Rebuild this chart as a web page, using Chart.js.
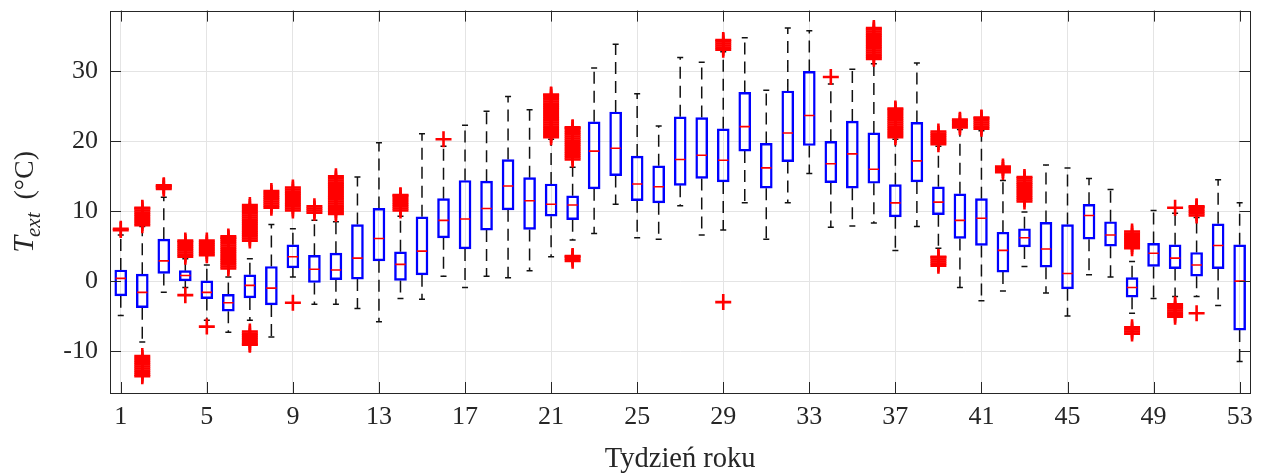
<!DOCTYPE html>
<html>
<head>
<meta charset="utf-8">
<script src="https://cdn.jsdelivr.net/npm/chart.js@4"></script>
<style>
  html, body { margin: 0; padding: 0; background: #fff; }
</style>
</head>
<body>
<canvas id="chart" width="1261" height="475"></canvas>
<script>
const weeks = [1, 2, 3, 4, 5, 6, 7, 8, 9, 10, 11, 12, 13, 14, 15, 16, 17, 18, 19, 20,
  21, 22, 23, 24, 25, 26, 27, 28, 29, 30, 31, 32, 33, 34, 35, 36, 37, 38, 39, 40,
  41, 42, 43, 44, 45, 46, 47, 48, 49, 50, 51, 52, 53];

const whiskerLow = [-4.9, -8.7, -1.6, -0.9, -5.6, -7.3, -5.6, -8.0, 0.6, -3.3,
  -3.3, -3.9, -5.8, -2.5, -2.6, 0.7, -0.9, 0.7, 0.5, 1.5,
  3.5, 5.9, 6.8, 11.0, 6.2, 6.0, 10.8, 6.6, 7.3, 11.2,
  6.0, 11.2, 15.4, 7.7, 7.9, 8.3, 4.4, 7.8, 4.7, -0.9,
  -2.8, -1.4, 2.1, -1.7, -5.0, 0.9, 0.6, -4.6, -2.5, -2.2,
  -2.2, -3.5, -11.5];
const q1 = [-2.1, -3.8, 1.1, 0.05, -2.5, -4.3, -2.4, -3.4, 1.9, -0.2,
  0.2, 0.3, 2.9, 0.1, 0.9, 6.2, 4.6, 7.3, 10.2, 7.4,
  9.3, 8.8, 13.2, 15.1, 11.5, 11.2, 13.7, 14.7, 14.2, 18.6,
  13.3, 17.1, 19.4, 14.1, 13.3, 14.0, 9.2, 14.2, 9.5, 6.1,
  5.1, 1.3, 4.9, 2.0, -1.1, 6.0, 5.0, -2.3, 2.1, 1.8,
  0.7, 1.8, -7.0];
const median = [0.4, -1.6, 2.9, 0.8, -1.6, -3.1, -0.6, -1.0, 3.5, 1.7,
  1.6, 3.3, 6.1, 2.4, 4.3, 8.7, 8.9, 10.4, 13.6, 11.5,
  11.0, 10.9, 18.6, 19.0, 13.9, 13.5, 17.4, 18.0, 17.3, 22.1,
  16.2, 21.2, 23.7, 16.8, 18.2, 16.0, 11.2, 17.2, 11.3, 8.7,
  9.0, 4.4, 6.2, 4.6, 1.1, 9.4, 6.6, -0.9, 4.0, 3.3,
  2.3, 5.1, 0.0];
const q3 = [1.6, 1.0, 6.0, 1.5, 0.05, -1.9, 0.9, 2.1, 5.2, 3.7,
  4.0, 8.1, 10.4, 4.2, 9.2, 11.8, 14.4, 14.3, 17.4, 14.8,
  13.9, 12.2, 22.8, 24.2, 17.9, 16.5, 23.5, 23.4, 21.8, 27.0,
  19.7, 27.2, 30.0, 20.0, 22.9, 21.2, 13.8, 22.7, 13.5, 12.5,
  11.8, 7.0, 7.5, 8.4, 8.1, 11.0, 8.5, 0.5, 5.4, 5.2,
  4.1, 8.2, 5.2];
const whiskerHigh = [6.6, 7.8, 12.0, 3.2, 2.3, 0.6, 3.2, 8.1, 7.5, 8.7,
  8.5, 14.9, 19.8, 9.3, 21.1, 19.3, 22.3, 24.3, 26.4, 24.5,
  20.3, 16.3, 30.5, 33.9, 26.8, 22.2, 32.0, 31.3, 32.8, 34.8,
  27.3, 36.2, 35.8, 28.2, 30.3, 31.1, 20.3, 31.2, 19.3, 21.7,
  21.5, 14.4, 9.9, 16.6, 16.2, 14.7, 13.1, 2.8, 10.1, 9.7,
  9.1, 14.5, 11.2];
const outliers = [
  [7.3, 7.5],
  [8.0, 8.3, 8.6, 8.9, 9.2, 9.5, 9.8, 10.1, 10.4, 10.5, -10.7, -11.0, -11.3, -11.6, -11.9, -12.2, -12.5, -12.8, -13.1, -13.4, -13.6],
  [13.2, 13.4, 13.6, 13.7],
  [3.5, 3.8, 4.1, 4.4, 4.7, 5.0, 5.3, 5.6, 5.8, -2.0],
  [3.7, 4.0, 4.3, 4.6, 4.9, 5.2, 5.5, 5.8, -6.5],
  [1.8, 2.1, 2.4, 2.7, 3.0, 3.3, 3.6, 3.9, 4.2, 4.5, 4.8, 5.1, 5.4, 5.7, 6.0, 6.2, 6.4],
  [5.8, 6.1, 6.4, 6.7, 7.0, 7.3, 7.6, 7.9, 8.2, 8.5, 8.8, 9.1, 9.4, 9.7, 10.0, 10.3, 10.6, 10.9, -7.2, -7.5, -7.8, -8.1, -8.4, -8.7, -9.0, -9.1],
  [10.5, 10.8, 11.1, 11.4, 11.7, 12.0, 12.3, 12.6, 12.9],
  [10.1, 10.4, 10.7, 11.0, 11.3, 11.6, 11.9, 12.2, 12.5, 12.8, 13.1, 13.4, -3.1],
  [9.8, 10.1, 10.4, 10.7],
  [9.6, 9.9, 10.2, 10.5, 10.8, 11.1, 11.4, 11.7, 12.0, 12.3, 12.6, 12.9, 13.2, 13.5, 13.8, 14.1, 14.4, 14.7, 15.0],
  [],
  [],
  [10.1, 10.4, 10.7, 11.0, 11.3, 11.6, 11.9, 12.2, 12.3],
  [],
  [20.3],
  [],
  [],
  [],
  [],
  [20.6, 20.9, 21.2, 21.5, 21.8, 22.1, 22.4, 22.7, 23.0, 23.3, 23.6, 23.9, 24.2, 24.5, 24.8, 25.1, 25.4, 25.7, 26.0, 26.3, 26.6, 26.7],
  [17.4, 17.7, 18.0, 18.3, 18.6, 18.9, 19.2, 19.5, 19.8, 20.1, 20.4, 20.7, 21.0, 21.3, 21.6, 21.9, 22.0, 2.9, 3.2, 3.5, 3.6],
  [],
  [],
  [],
  [],
  [],
  [],
  [33.1, 33.4, 33.7, 34.0, 34.3, 34.5, -3.0],
  [],
  [],
  [],
  [],
  [29.2],
  [],
  [31.8, 32.1, 32.4, 32.7, 33.0, 33.3, 33.6, 33.9, 34.2, 34.5, 34.8, 35.1, 35.4, 35.7, 36.0, 36.2],
  [20.6, 20.9, 21.2, 21.5, 21.8, 22.1, 22.4, 22.7, 23.0, 23.3, 23.6, 23.9, 24.2, 24.5, 24.7],
  [],
  [19.6, 19.9, 20.2, 20.5, 20.8, 21.1, 21.4, 2.2, 2.5, 2.8, 3.1, 3.4, 3.5],
  [22.0, 22.3, 22.6, 22.9, 23.1],
  [21.8, 22.1, 22.4, 22.7, 23.0, 23.3, 23.4],
  [15.6, 15.9, 16.2, 16.4],
  [11.4, 11.7, 12.0, 12.3, 12.6, 12.9, 13.2, 13.5, 13.8, 14.1, 14.4, 14.7, 14.9],
  [],
  [],
  [],
  [],
  [4.7, 5.0, 5.3, 5.6, 5.9, 6.2, 6.5, 6.8, 7.1, -6.6, -6.9, -7.2, -7.5],
  [],
  [10.5, -3.3, -3.6, -3.9, -4.2, -4.5, -4.8, -5.1],
  [9.4, 9.7, 10.0, 10.3, 10.6, 10.7, -4.6],
  [],
  []
];

const xTicks = [1, 5, 9, 13, 17, 21, 25, 29, 33, 37, 41, 45, 49, 53];
const yTicks = [-10, 0, 10, 20, 30];

const serif = "'Liberation Serif', 'Times New Roman', serif";
const axisColor = "#262626";

// whisker lines: q3 -> upper whisker, q1 -> lower whisker, gaps between
const whiskerPts = [];
weeks.forEach((w, i) => {
  whiskerPts.push({ x: w, y: q3[i] }, { x: w, y: whiskerHigh[i] }, { x: w, y: null });
  whiskerPts.push({ x: w, y: q1[i] }, { x: w, y: whiskerLow[i] }, { x: w, y: null });
});
const capPts = [];
weeks.forEach((w, i) => {
  capPts.push({ x: w, y: whiskerHigh[i] }, { x: w, y: whiskerLow[i] });
});
const outlierPts = [];
weeks.forEach((w, i) => {
  outliers[i].forEach((v) => outlierPts.push({ x: w, y: v }));
});

const frame = {
  id: "frame",
  afterDraw(chart) {
    const { ctx, chartArea: a, scales } = chart;
    const tl = 11;
    ctx.save();
    ctx.strokeStyle = axisColor;
    ctx.lineWidth = 1;
    ctx.beginPath();
    xTicks.forEach((v) => {
      const px = Math.round(scales.x.getPixelForValue(v)) + 0.5;
      ctx.moveTo(px, a.bottom); ctx.lineTo(px, a.bottom - tl);
      ctx.moveTo(px, a.top); ctx.lineTo(px, a.top + tl);
    });
    yTicks.forEach((v) => {
      const py = Math.round(scales.y.getPixelForValue(v)) + 0.5;
      ctx.moveTo(a.left, py); ctx.lineTo(a.left + tl, py);
      ctx.moveTo(a.right, py); ctx.lineTo(a.right - tl, py);
    });
    ctx.stroke();
    ctx.strokeRect(Math.round(a.left) + 0.5, Math.round(a.top) + 0.5,
      Math.round(a.right - a.left), Math.round(a.bottom - a.top));

    // y axis title: T_ext (°C)
    const cy = (a.top + a.bottom) / 2;
    ctx.translate(33, cy);
    ctx.rotate(-Math.PI / 2);
    ctx.fillStyle = axisColor;
    ctx.textBaseline = "alphabetic";
    const fT = "italic 30px " + serif;
    const fSub = "italic 21px " + serif;
    const fUnit = "28px " + serif;
    ctx.font = fT; const wT = ctx.measureText("T").width;
    ctx.font = fSub; const wSub = ctx.measureText("ext").width;
    ctx.font = fUnit; const wUnit = ctx.measureText("(°C)").width;
    const gap = 12;
    let x0 = -(wT + wSub + gap + wUnit) / 2;
    ctx.font = fT; ctx.fillText("T", x0, 0);
    ctx.font = fSub; ctx.fillText("ext", x0 + wT - 1, 7);
    ctx.font = fUnit; ctx.fillText("(°C)", x0 + wT + wSub + gap, 0);
    ctx.restore();
  }
};

new Chart(document.getElementById("chart"), {
  type: "bar",
  data: {
    datasets: [
      {
        type: "line",
        data: whiskerPts,
        borderColor: "#111",
        borderWidth: 1.5,
        borderDash: [12, 7],
        pointRadius: 0,
        spanGaps: false,
        tension: 0,
        order: 5,
      },
      {
        type: "scatter",
        data: capPts,
        pointStyle: "line",
        pointRadius: 3,
        borderColor: "#111",
        borderWidth: 1.5,
        order: 4,
      },
      {
        type: "bar",
        data: weeks.map((w, i) => ({ x: w, y: [q1[i], q3[i]] })),
        backgroundColor: "rgba(0,0,0,0)",
        borderColor: "#0000ff",
        borderWidth: 1.8,
        borderSkipped: false,
        barThickness: 12,
        grouped: false,
        order: 3,
      },
      {
        type: "scatter",
        data: weeks.map((w, i) => ({ x: w, y: median[i] })),
        pointStyle: "line",
        pointRadius: 5.2,
        borderColor: "#ff0000",
        borderWidth: 1.6,
        order: 2,
      },
      {
        type: "scatter",
        data: outlierPts,
        pointStyle: "cross",
        pointRadius: 8,
        borderColor: "#ff0000",
        borderWidth: 2.6,
        order: 1,
      },
    ],
  },
  options: {
    responsive: false,
    animation: false,
    events: [],
    layout: { padding: { left: 0, right: 9, top: 10, bottom: 0 } },
    plugins: { legend: { display: false }, tooltip: { enabled: false } },
    scales: {
      x: {
        type: "linear",
        min: 0.5,
        max: 53.5,
        offset: false,
        afterBuildTicks: (s) => { s.ticks = xTicks.map((v) => ({ value: v })); },
        afterFit: (s) => { s.height = 82; s.paddingLeft = 0; s.paddingRight = 0; },
        grid: { color: "#e4e4e4", drawTicks: false, offset: false },
        border: { display: false },
        ticks: {
          color: axisColor,
          font: { family: serif, size: 26 },
          padding: 9,
          maxRotation: 0,
          autoSkip: false,
          callback: (v) => String(v),
        },
        title: {
          display: true,
          text: "Tydzień roku",
          color: axisColor,
          font: { family: serif, size: 28.5 },
          padding: { top: 0, bottom: -2 },
        },
      },
      y: {
        min: -16,
        max: 38.7,
        afterBuildTicks: (s) => { s.ticks = yTicks.map((v) => ({ value: v })); },
        afterFit: (s) => { s.width = 110; s.paddingTop = 0; s.paddingBottom = 0; },
        grid: { color: "#e4e4e4", drawTicks: false },
        border: { display: false },
        ticks: {
          color: axisColor,
          font: { family: serif, size: 26 },
          padding: 12,
          callback: (v) => String(v),
        },
      },
    },
  },
  plugins: [frame],
});
</script>
</body>
</html>
